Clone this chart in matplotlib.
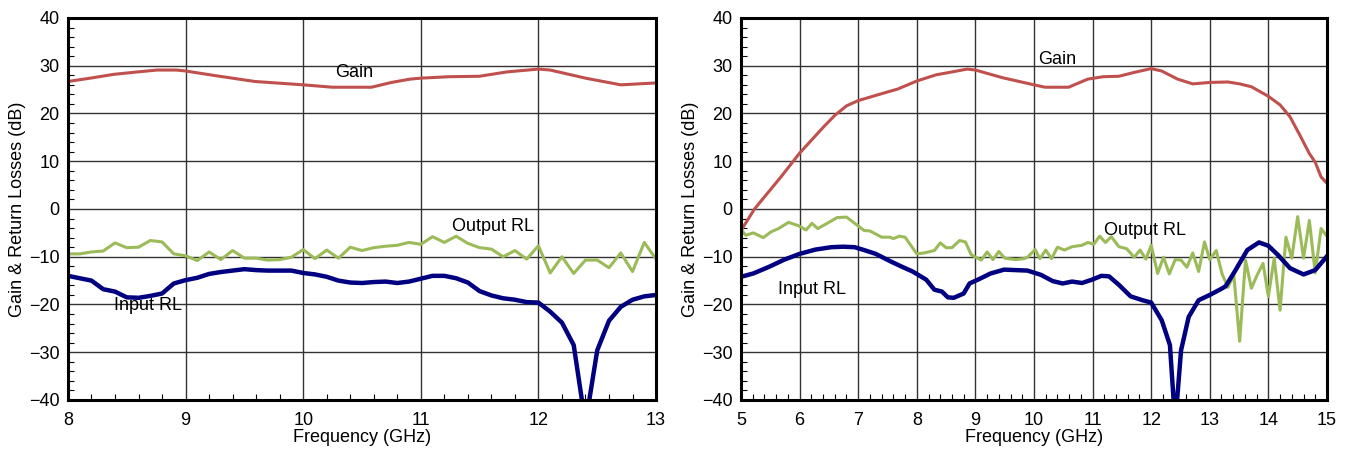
import numpy as np
import matplotlib.pyplot as plt
from matplotlib.ticker import MultipleLocator

plt.rcParams["font.family"] = ["Liberation Sans", "DejaVu Sans"]
plt.rcParams["font.size"] = 13

# ---- left chart: 8-13 GHz ----
gain_f1 = [8.0, 8.19, 8.39, 8.59, 8.76, 8.92, 9.0, 9.26, 9.59, 10.0, 10.25, 10.58,
           10.75, 10.91, 11.0, 11.24, 11.5, 11.73, 12.0, 12.1, 12.4, 12.7, 13.0]
gain_v1 = [26.7, 27.4, 28.2, 28.7, 29.1, 29.1, 28.9, 27.9, 26.7, 26.0, 25.5, 25.5,
           26.5, 27.2, 27.4, 27.7, 27.8, 28.7, 29.3, 29.1, 27.4, 26.0, 26.4]

rl_f1 = [round(8 + 0.1 * i, 1) for i in range(51)]
inrl_v1 = [-14.0, -14.5, -15.0, -16.8, -17.3, -18.5, -18.6, -18.2, -17.7, -15.6,
           -14.9, -14.4, -13.6, -13.2, -12.9, -12.6, -12.8, -12.9, -12.9, -12.9,
           -13.4, -13.7, -14.2, -15.0, -15.4, -15.5, -15.3, -15.2, -15.5, -15.2,
           -14.6, -14.0, -14.0, -14.5, -15.4, -17.2, -18.1, -18.7, -19.0, -19.5,
           -19.6, -21.5, -23.8, -28.5, -45.0, -29.6, -23.4, -20.5, -19.0, -18.3,
           -18.0]
outrl_v1 = [-9.4, -9.4, -9.0, -8.8, -7.1, -8.1, -8.0, -6.6, -6.9, -9.4,
            -9.8, -10.8, -9.0, -10.6, -8.7, -10.3, -10.3, -10.7, -10.6, -10.1,
            -8.5, -10.4, -8.6, -10.3, -8.0, -8.7, -8.1, -7.8, -7.6, -7.0,
            -7.4, -5.8, -7.0, -5.7, -7.2, -8.1, -8.4, -10.0, -8.7, -10.5,
            -7.7, -13.4, -10.0, -13.5, -10.7, -10.7, -12.3, -9.2, -13.1, -7.0,
            -10.5]

# ---- right chart: 5-15 GHz ----
gain_f2 = [5.0, 5.23, 5.68, 6.0, 6.41, 6.6, 6.8, 7.0, 7.47, 7.67, 8.0, 8.33, 8.6, 8.86,
           9.0, 9.46, 10.0, 10.19, 10.59, 10.92, 11.18, 11.45, 11.71, 12.0, 12.18,
           12.45, 12.71, 13.0, 13.31, 13.51, 13.71, 14.0, 14.2, 14.37, 14.54, 14.7,
           14.8, 14.9, 15.0]
gain_v2 = [-4.5, 0.0, 6.7, 11.7, 17.2, 19.6, 21.6, 22.7, 24.4, 25.1, 26.8, 28.1, 28.7,
           29.3, 29.1, 27.5, 26.0, 25.5, 25.5, 27.2, 27.7, 27.8, 28.6, 29.4, 28.9,
           27.2, 26.2, 26.5, 26.6, 26.2, 25.6, 23.6, 21.8, 19.3, 15.4, 11.6,
           9.8, 6.7, 5.4]

inrl_f2 = [5.0, 5.21, 5.48, 5.74, 6.0, 6.27, 6.54, 6.74, 6.94, 7.1, 7.3, 7.54, 7.73,
           7.93, 8.16, 8.3, 8.43, 8.53, 8.63, 8.8, 8.9, 9.06, 9.26, 9.49, 9.69, 9.89,
           10.12, 10.32, 10.49, 10.65, 10.82, 10.99, 11.15, 11.28, 11.45, 11.65,
           11.85, 12.0, 12.18, 12.32, 12.41, 12.51, 12.64, 12.81, 13.0, 13.17, 13.27,
           13.44, 13.64, 13.84, 14.0, 14.17, 14.37, 14.6, 14.8, 15.0]
inrl_v2 = [-14.2, -13.5, -12.1, -10.6, -9.4, -8.5, -8.0, -7.9, -8.0, -8.6, -9.4, -10.9,
           -12.0, -13.1, -14.8, -16.9, -17.3, -18.5, -18.6, -17.7, -15.6, -14.7, -13.5,
           -12.7, -12.8, -12.9, -13.8, -15.1, -15.6, -15.2, -15.5, -14.8, -14.0, -14.1,
           -15.9, -18.3, -19.1, -19.6, -23.3, -28.5, -45.0, -29.6, -22.6, -19.1, -18.0,
           -16.9, -16.2, -12.8, -8.6, -7.0, -7.7, -9.7, -12.4, -13.7, -12.8, -9.9]

outrl_f2 = [5.0, 5.08, 5.21, 5.38, 5.51, 5.64, 5.81, 5.98, 6.11, 6.21, 6.31, 6.47, 6.64,
            6.8, 6.94, 7.1, 7.2, 7.4, 7.54, 7.6, 7.7, 7.8, 8.0, 8.13, 8.3, 8.4, 8.5,
            8.6, 8.73, 8.83, 8.93, 9.1, 9.2, 9.3, 9.4, 9.5, 9.69, 9.83, 9.89, 10.02,
            10.1, 10.2, 10.3, 10.4, 10.52, 10.65, 10.82, 10.92, 11.02, 11.12, 11.22,
            11.32, 11.45, 11.58, 11.71, 11.81, 11.91, 12.0, 12.11, 12.21, 12.31, 12.41,
            12.51, 12.61, 12.71, 12.81, 12.91, 13.0, 13.11, 13.21, 13.31, 13.41, 13.51,
            13.61, 13.71, 13.81, 13.91, 14.0, 14.1, 14.2, 14.3, 14.4, 14.5, 14.6,
            14.7, 14.8, 14.9, 15.0]
outrl_v2 = [-4.3, -5.5, -5.0, -6.0, -4.8, -4.1, -2.8, -3.5, -4.4, -3.0, -4.1, -3.0, -1.8,
            -1.7, -3.0, -4.5, -4.6, -5.9, -5.9, -6.2, -5.7, -5.9, -9.4, -9.2, -8.7, -7.1,
            -8.1, -8.1, -6.6, -6.9, -9.6, -10.7, -9.0, -10.6, -8.9, -10.3, -10.6, -10.4,
            -10.1, -8.5, -10.4, -8.6, -10.4, -8.0, -8.6, -7.9, -7.6, -7.0, -7.4, -5.7,
            -7.0, -5.8, -7.9, -8.3, -10.1, -8.6, -10.5, -7.6, -13.5, -10.1, -13.6, -10.6,
            -10.7, -12.2, -9.2, -13.1, -6.9, -10.6, -8.7, -13.6, -16.4, -13.8, -27.7,
            -10.7, -16.6, -13.8, -11.4, -18.3, -10.3, -21.2, -5.9, -10.3, -1.6, -10.3,
            -2.4, -13.4, -4.1, -5.7]

red = "#C0504D"
green = "#9BBB59"
blue = "#000080"

fig = plt.figure(figsize=(13.51, 4.53), dpi=100)
ax1 = fig.add_axes([0.0503, 0.117, 0.4353, 0.8433])
ax2 = fig.add_axes([0.5485, 0.117, 0.4337, 0.8433])


def style(ax, x0, x1):
    ax.set_xlim(x0, x1)
    ax.set_ylim(-40, 40)
    ax.xaxis.set_major_locator(MultipleLocator(1))
    ax.xaxis.set_minor_locator(MultipleLocator(0.2))
    ax.yaxis.set_major_locator(MultipleLocator(10))
    ax.yaxis.set_minor_locator(MultipleLocator(2))
    ax.grid(True, which="major", color="#333333", lw=1.0)
    ax.tick_params(which="both", direction="in", top=False, right=False)
    ax.tick_params(which="major", length=0, labelsize=13)
    ax.tick_params(axis="x", which="major", pad=9)
    ax.tick_params(axis="y", which="major", pad=6)
    ax.tick_params(which="minor", length=4, width=0.8)
    for s in ax.spines.values():
        s.set_linewidth(2.2)
        s.set_color("black")
        s.set_zorder(5)
    ax.set_xlabel("Frequency (GHz)", fontsize=13, labelpad=0)
    ax.set_ylabel("Gain & Return Losses (dB)", fontsize=13, labelpad=2)


style(ax1, 8, 13)
ax1.plot(gain_f1, gain_v1, color=red, lw=2.2)
ax1.plot(rl_f1, outrl_v1, color=green, lw=2.2)
ax1.plot(rl_f1, inrl_v1, color=blue, lw=3.2)
ax1.text(10.43, 28.5, "Gain", ha="center", va="center", fontsize=13)
ax1.text(11.61, -3.6, "Output RL", ha="center", va="center", fontsize=13)
ax1.text(8.68, -20.3, "Input RL", ha="center", va="center", fontsize=13)

style(ax2, 5, 15)
ax2.plot(gain_f2, gain_v2, color=red, lw=2.2)
ax2.plot(outrl_f2, outrl_v2, color=green, lw=2.2)
ax2.plot(inrl_f2, inrl_v2, color=blue, lw=3.2)
ax2.text(10.39, 31.4, "Gain", ha="center", va="center", fontsize=13)
ax2.text(11.9, -4.6, "Output RL", ha="center", va="center", fontsize=13)
ax2.text(6.21, -16.8, "Input RL", ha="center", va="center", fontsize=13)

fig.savefig("out.png", dpi=100)
